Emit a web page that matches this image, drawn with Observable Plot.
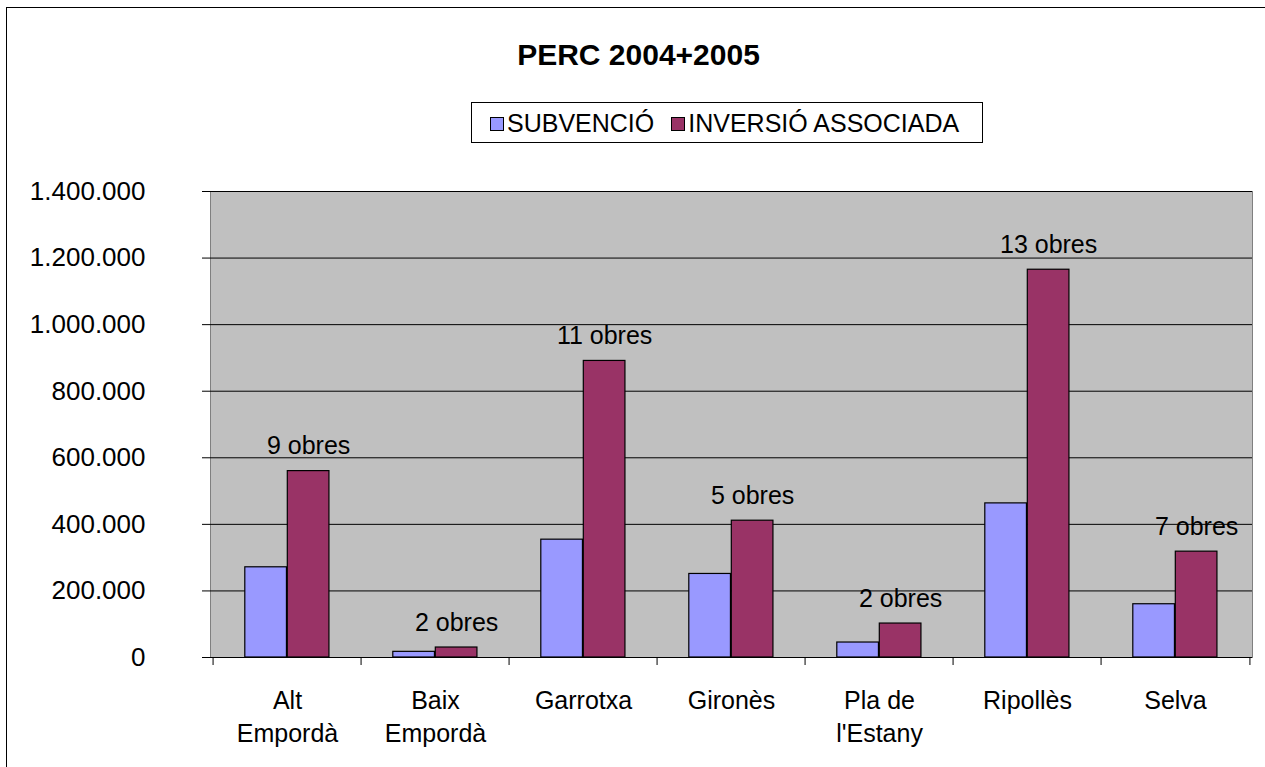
<!DOCTYPE html>
<html>
<head>
<meta charset="utf-8">
<script src="https://cdn.jsdelivr.net/npm/d3@7"></script>
<script src="https://cdn.jsdelivr.net/npm/@observablehq/plot@0.6"></script>
<style>
  body { margin: 0; background: #fff; font-family: "Liberation Sans", Arial, sans-serif; color: #000; }
  #wrap { position: relative; width: 1265px; height: 767px; overflow: hidden; background: #fff; }
  #border { position: absolute; left: 6px; top: 7px; width: 1400px; height: 900px; border-left: 1px solid #000; border-top: 1px solid #000; box-sizing: border-box; }
  #title { position: absolute; left: 6px; width: 1265px; top: 40px; text-align: center; font-weight: bold; font-size: 30px; line-height: 30px; }
  #legend { position: absolute; left: 471px; top: 102px; width: 512px; height: 41px; box-sizing: border-box; border: 1px solid #000; display: flex; align-items: center; padding-left: 18px; padding-top: 2px; font-size: 25px; line-height: 25px; background: #fff; }
  .item { display: flex; align-items: center; }
  .sw { width: 14px; height: 14px; box-sizing: border-box; border: 1px solid #000; margin-right: 3px; }
  #chart { position: absolute; left: 0; top: 160px; }
</style>
</head>
<body>
<div id="wrap">
  <div id="border"></div>
  <div id="title"></div>
  <div id="legend"></div>
  <div id="chart"></div>
</div>
<script>
// ---- data ----
const title = "PERC 2004+2005";
const regions = ["Alt Empordà", "Baix Empordà", "Garrotxa", "Gironès", "Pla de l'Estany", "Ripollès", "Selva"];
const regionLabels = ["Alt\nEmpordà", "Baix\nEmpordà", "Garrotxa", "Gironès", "Pla de\nl'Estany", "Ripollès", "Selva"];
const subvencio = [271000, 17000, 354000, 251000, 45000, 463000, 160000];
const inversio = [560000, 30000, 891000, 411000, 102000, 1165000, 318000];
const obres = [9, 2, 11, 5, 2, 13, 7];
const seriesNames = ["SUBVENCIÓ", "INVERSIÓ ASSOCIADA"];
const seriesColors = ["#9999FF", "#993366"];
const yTicks = [0, 200000, 400000, 600000, 800000, 1000000, 1200000, 1400000];

// ---- layout ----
const W = 1265, H = 607, mL = 210, mR = 13, mT = 31, mB = 110;
const step = (W - mL - mR) / regions.length;
const gap = 31.8, barW = 42.5;
const font = '"Liberation Sans", Arial, sans-serif';

document.getElementById("title").textContent = title;
const legend = document.getElementById("legend");
seriesNames.forEach((name, i) => {
  const it = document.createElement("div");
  it.className = "item";
  if (i > 0) it.style.marginLeft = "17px";
  const sw = document.createElement("div");
  sw.className = "sw";
  sw.style.background = seriesColors[i];
  const tx = document.createElement("span");
  tx.textContent = name;
  it.appendChild(sw); it.appendChild(tx);
  legend.appendChild(it);
});

const rows = regions.map((r, i) => ({ region: r, sub: subvencio[i], inv: inversio[i], n: obres[i] }));
const labelOf = new Map(regions.map((r, i) => [r, regionLabels[i]]));
const fmt = d3.formatLocale({ decimal: ",", thousands: ".", grouping: [3], currency: ["", "€"] }).format(",d");

const plot = Plot.plot({
  width: W, height: H,
  marginLeft: mL, marginRight: mR, marginTop: mT, marginBottom: mB,
  style: { fontFamily: font, fontSize: "25px", color: "#000", background: "transparent" },
  x: { domain: regions, padding: 0, label: null },
  y: { domain: [0, 1400000], label: null },
  marks: [
    Plot.frame({ fill: "#C0C0C0", stroke: "#808080" }),
    Plot.ruleY(yTicks, { stroke: "#000", strokeWidth: 1 }),
    Plot.barY(rows, { x: "region", y: "sub", fill: seriesColors[0], stroke: "#000", strokeWidth: 1.2,
      insetLeft: gap, insetRight: step - gap - barW }),
    Plot.barY(rows, { x: "region", y: "inv", fill: seriesColors[1], stroke: "#000", strokeWidth: 1.2,
      insetLeft: gap + barW, insetRight: step - gap - 2 * barW }),
    Plot.text(rows, { x: "region", y: "inv", text: d => `${d.n} obres`,
      dx: gap + barW * 1.5 - step / 2, dy: -17, lineAnchor: "bottom", fontSize: 25, fill: "#000" }),
    Plot.axisY({ ticks: yTicks, tickSize: 8, tickPadding: 57, tickFormat: fmt, fontSize: 26, fill: "#000", stroke: "#000", label: null }),
    Plot.axisX({ tickSize: 8, dx: -step / 2, stroke: "#000", fill: "none", label: null }),
    Plot.axisX({ ticks: [regions[regions.length - 1]], tickSize: 8, dx: step / 2, stroke: "#000", fill: "none", label: null }),
    Plot.axisX({ tickSize: 0, tickPadding: 28, tickFormat: d => labelOf.get(d), lineHeight: 1.32, fontSize: 25, fill: "#000", label: null }),
    Plot.ruleY([0], { stroke: "#000" })
  ]
});
document.getElementById("chart").appendChild(plot);
</script>
</body>
</html>
